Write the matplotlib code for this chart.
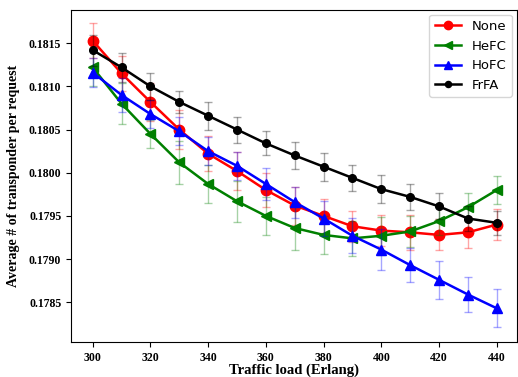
import matplotlib
matplotlib.use("Agg")
import matplotlib.pyplot as plt

# Traffic load (Erlang)
load = [300, 310, 320, 330, 340, 350, 360, 370, 380, 390, 400, 410, 420, 430, 440]

none_y = [0.18153, 0.18115, 0.18082, 0.18050, 0.18022, 0.18002, 0.17980, 0.17962,
          0.17950, 0.17938, 0.17933, 0.17931, 0.17928, 0.17931, 0.17940]
hefc_y = [0.18122, 0.18080, 0.18045, 0.18012, 0.17987, 0.17967, 0.17950, 0.17936,
          0.17928, 0.17924, 0.17927, 0.17932, 0.17944, 0.17960, 0.17980]
hofc_y = [0.18116, 0.18090, 0.18068, 0.18048, 0.18025, 0.18008, 0.17987, 0.17966,
          0.17947, 0.17927, 0.17911, 0.17893, 0.17876, 0.17859, 0.17843]
frfa_y = [0.18142, 0.18122, 0.18100, 0.18082, 0.18066, 0.18050, 0.18034, 0.18020,
          0.18007, 0.17994, 0.17981, 0.17972, 0.17961, 0.17947, 0.17942]

none_err = [0.00020, 0.00020, 0.00022, 0.00023, 0.00020, 0.00022, 0.00020, 0.00022,
            0.00020, 0.00018, 0.00018, 0.00020, 0.00018, 0.00018, 0.00018]
hefc_err = [0.00022, 0.00024, 0.00016, 0.00025, 0.00022, 0.00024, 0.00022, 0.00026,
            0.00022, 0.00020, 0.00022, 0.00018, 0.00016, 0.00016, 0.00016]
hofc_err = [0.00017, 0.00020, 0.00016, 0.00016, 0.00016, 0.00016, 0.00018, 0.00018,
            0.00020, 0.00020, 0.00024, 0.00020, 0.00022, 0.00020, 0.00022]
frfa_err = [0.00018, 0.00017, 0.00016, 0.00013, 0.00016, 0.00015, 0.00014, 0.00016,
            0.00016, 0.00015, 0.00016, 0.00015, 0.00015, 0.00015, 0.00014]

fig = plt.figure(figsize=(5.18, 3.77), dpi=100)
ax = fig.add_axes([71 / 518, 35 / 377, 446 / 518, 332.5 / 377])

series = [
    ("None", none_y, none_err, "red", "o", 7.5),
    ("HeFC", hefc_y, hefc_err, "green", "<", 6.5),
    ("HoFC", hofc_y, hofc_err, "blue", "^", 7.5),
    ("FrFA", frfa_y, frfa_err, "black", "o", 5.5),
]

for name, y, err, c, m, ms in series:
    ax.errorbar(load, y, yerr=err, fmt="none", ecolor=c, alpha=0.35,
                elinewidth=1, capsize=3, capthick=1)
    ax.plot(load, y, color=c, marker=m, markersize=ms, linewidth=1.8, label=name)

ax.set_xlim(292.5, 447)
ax.set_ylim(0.17804, 0.18189)
ax.set_xticks([300, 320, 340, 360, 380, 400, 420, 440])
ax.set_yticks([0.1785, 0.1790, 0.1795, 0.1800, 0.1805, 0.1810, 0.1815])
ax.set_yticklabels(["0.1785", "0.1790", "0.1795", "0.1800", "0.1805", "0.1810", "0.1815"])

for lbl in ax.get_xticklabels() + ax.get_yticklabels():
    lbl.set_fontfamily("Liberation Serif")
    lbl.set_fontweight("bold")
    lbl.set_fontsize(8.5)

ax.set_xlabel("Traffic load (Erlang)", fontfamily="Liberation Serif",
              fontweight="bold", fontsize=10.5, labelpad=0)
ax.set_ylabel("Average # of transponder per request", fontfamily="Liberation Serif",
              fontweight="bold", fontsize=10, labelpad=6)

ax.legend(loc="upper right", fontsize=9.5, handlelength=2.0, markerscale=0.8,
          borderaxespad=0.4)

fig.savefig("out.png", dpi=100)
